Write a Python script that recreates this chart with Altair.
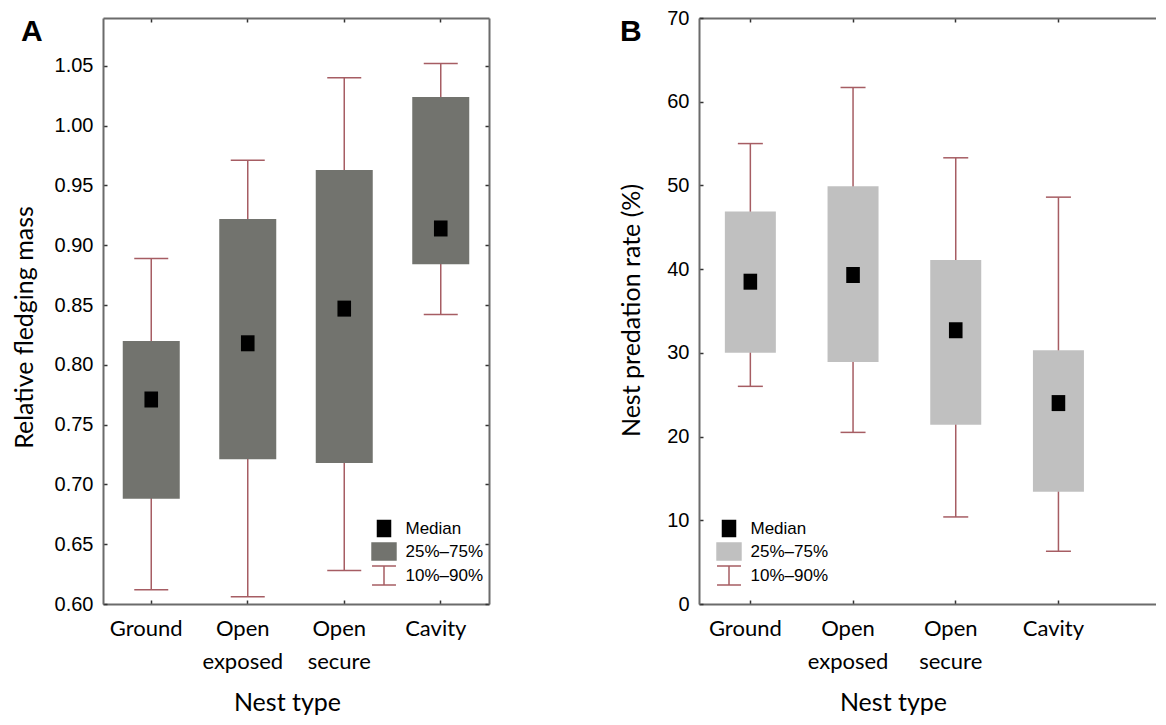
import altair as alt
import pandas as pd

# ---------------- data ----------------
categories = ["Ground", "Open exposed", "Open secure", "Cavity"]

a_p10 = [0.612, 0.606, 0.628, 0.842]
a_p25 = [0.688, 0.721, 0.718, 0.884]
a_med = [0.771, 0.818, 0.847, 0.914]
a_p75 = [0.820, 0.922, 0.963, 1.024]
a_p90 = [0.889, 0.971, 1.040, 1.052]
a_ticks = [0.60, 0.65, 0.70, 0.75, 0.80, 0.85, 0.90, 0.95, 1.00, 1.05]

b_p10 = [26.0, 20.5, 10.4, 6.3]
b_p25 = [30.0, 28.9, 21.4, 13.4]
b_med = [38.5, 39.3, 32.7, 24.0]
b_p75 = [46.9, 49.9, 41.1, 30.3]
b_p90 = [55.0, 61.7, 53.3, 48.6]
b_ticks = [0, 10, 20, 30, 40, 50, 60, 70]

legend_items = ["Median", "25%–75%", "10%–90%"]

# ---------------- styles ----------------
FRAME = "#6b6b6b"
WHISKER = "#a65d63"
A_BOX = "#72736e"
B_BOX = "#c0c0c0"
NUM_FONT = "Liberation Sans"
TEXT_FONT = "Lato"
PLOT_H = 586

MEDIAN_SHAPE = "M-0.85,-1H0.85V1H-0.85Z"
LEG_MEDIAN = "M-0.62,-0.76H0.62V0.76H-0.62Z"
LEG_BOX = "M-1.14,-0.81H1.14V0.81H-1.14Z"
LEG_WHISKER = "M-1.14,-0.9H1.14M0,-0.9V0.9M-1.14,0.9H1.14"

INWARD = {"expr": "-4"}


def make_panel(letter, p10, p25, med, p75, p90, y_title, y_domain, y_values,
               y_format, box_color, width, pad_outer, box_w, cap_w, right_axis,
               y_title_x, y_title_y, x_title_x, legend_x, letter_dx):
    df = pd.DataFrame({"nest": categories, "p10": p10, "p25": p25,
                       "median": med, "p75": p75, "p90": p90})
    leg_df = pd.DataFrame({"item": legend_items, "yy": [0.0, 0.0, 0.0]})
    letter_df = pd.DataFrame({"letter": [letter]})

    xs = alt.Scale(domain=categories, paddingInner=0, paddingOuter=pad_outer, align=0)
    ys = alt.Scale(domain=y_domain, nice=False, zero=False)

    x_bottom = alt.Axis(
        orient="bottom", title="Nest type", labelExpr="split(datum.label, ' ')",
        labelAngle=0, labelFont=TEXT_FONT, labelFontSize=22, labelColor="black",
        labelLineHeight=33, labelPadding=18, labelOffset=-5,
        domainColor=FRAME, domainWidth=2, tickColor="#333", tickSize=INWARD,
        tickWidth=1.5, titleFont=TEXT_FONT, titleFontSize=25,
        titleFontWeight="normal", titleColor="black", titleX=x_title_x,
        titleY=106, titleBaseline="alphabetic", titleAlign="center", grid=False)
    y_left = alt.Axis(
        orient="left", title=y_title, values=y_values, format=y_format,
        labelFont=NUM_FONT, labelFontSize=20, labelColor="black", labelPadding=14,
        domainColor=FRAME, domainWidth=2, tickColor="#333", tickSize=INWARD,
        tickWidth=1.5, titleFont=TEXT_FONT, titleFontSize=25,
        titleFontWeight="normal", titleColor="black", titleX=y_title_x,
        titleY=y_title_y, titleBaseline="bottom", titleAlign="center",
        titleAngle=270, grid=False)
    x_top = alt.Axis(orient="top", labels=False, title=None, domainColor=FRAME,
                     domainWidth=2, tickColor="#333", tickSize=INWARD,
                     tickWidth=1.5, grid=False)
    if right_axis:
        y_right = alt.Axis(orient="right", values=y_values, labels=False,
                           title=None, domainColor=FRAME, domainWidth=2,
                           tickColor="#333", tickSize=INWARD, tickWidth=1.5,
                           grid=False)
    else:
        y_right = None

    base = alt.Chart(df)

    whisk = base.mark_rule(color=WHISKER, strokeWidth=1.5).encode(
        x=alt.X("nest:N", scale=xs, axis=x_bottom, sort=categories),
        y=alt.Y("p10:Q", scale=ys, axis=y_left),
        y2="p90:Q",
    )
    cap_lo = base.mark_tick(color=WHISKER, size=cap_w, thickness=1.5, opacity=1).encode(
        x=alt.X("nest:N", scale=xs, axis=None, sort=categories),
        y=alt.Y("p10:Q", scale=ys, axis=None),
    )
    cap_hi = base.mark_tick(color=WHISKER, size=cap_w, thickness=1.5, opacity=1).encode(
        x=alt.X("nest:N", scale=xs, axis=None, sort=categories),
        y=alt.Y("p90:Q", scale=ys, axis=None),
    )
    box = base.mark_bar(color=box_color, size=box_w).encode(
        x=alt.X("nest:N", scale=xs, axis=None, sort=categories),
        y=alt.Y("p25:Q", scale=ys, axis=None),
        y2="p75:Q",
    )
    median = base.mark_point(shape=MEDIAN_SHAPE, size=256, filled=True,
                             color="black", opacity=1).encode(
        x=alt.X("nest:N", scale=xs, axis=x_top, sort=categories),
        y=alt.Y("median:Q", scale=ys, axis=y_right),
    )

    leg = alt.Legend(orient="none", legendX=legend_x, legendY=499, title=None,
                     symbolSize=441, symbolStrokeWidth=1.5, symbolOpacity=1,
                     labelFont=NUM_FONT, labelFontSize=17, labelColor="black",
                     labelOffset=10, rowPadding=-2, padding=0)
    legend_layer = alt.Chart(leg_df).mark_point(size=441, opacity=1, strokeWidth=1.5).encode(
        y=alt.Y("yy:Q", scale=ys, axis=None),
        shape=alt.Shape("item:N", sort=legend_items,
                        scale=alt.Scale(domain=legend_items,
                                        range=[LEG_MEDIAN, LEG_BOX, LEG_WHISKER]),
                        legend=leg),
        fill=alt.Fill("item:N", sort=legend_items,
                      scale=alt.Scale(domain=legend_items,
                                      range=["black", box_color, "transparent"]),
                      legend=leg),
        stroke=alt.Stroke("item:N", sort=legend_items,
                          scale=alt.Scale(domain=legend_items,
                                          range=["black", box_color, WHISKER]),
                          legend=leg),
    ).transform_filter("false")

    letter_layer = alt.Chart(letter_df).mark_text(
        font=NUM_FONT, fontSize=30, fontWeight="bold", align="left",
        baseline="alphabetic", color="black"
    ).encode(text="letter:N", x=alt.value(letter_dx), y=alt.value(23))

    return alt.layer(whisk, box, cap_lo, cap_hi, median, legend_layer,
                     letter_layer).resolve_axis(
        x="independent", y="independent"
    ).properties(width=width, height=PLOT_H)


panel_a = make_panel("A", a_p10, a_p25, a_med, a_p75, a_p90,
                     "Relative fledging mass", [0.6, 1.09], a_ticks, ".2f",
                     A_BOX, 386, 0.0, 57, 34, True,
                     -66, 309, 184, 269.5, -82)
panel_b = make_panel("B", b_p10, b_p25, b_med, b_p75, b_p90,
                     "Nest predation rate (%)", [0, 70], b_ticks, "d",
                     B_BOX, 457, 0.225, 51, 25, False,
                     -55, 292, 194, 18.5, -79)

chart = alt.hconcat(panel_a, panel_b, spacing=129).resolve_scale(
    fill="independent", stroke="independent", shape="independent",
    x="independent", y="independent"
).resolve_legend(
    fill="independent", stroke="independent", shape="independent"
).configure_view(stroke=None).properties(
    padding={"left": 4, "top": 0, "right": 0, "bottom": 0}
)

chart.save("out.html", embed_options={"renderer": "svg", "actions": False})
